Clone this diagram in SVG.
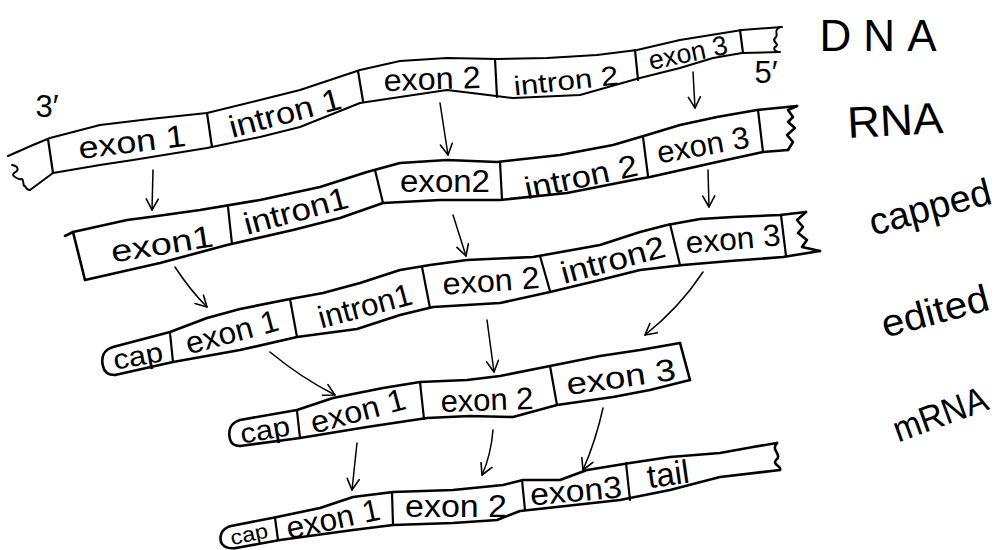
<svg xmlns="http://www.w3.org/2000/svg" width="1000" height="550" viewBox="0 0 1000 550">
<defs>
<style>
.edge{fill:none;stroke:#000;stroke-width:2.6;stroke-linejoin:round;stroke-linecap:round}
.thin{fill:none;stroke:#000;stroke-width:2;stroke-linejoin:round;stroke-linecap:round}
.div{fill:none;stroke:#000;stroke-width:2.2;stroke-linecap:round}
.arr{fill:none;stroke:#000;stroke-width:1.5;stroke-linecap:round;marker-end:url(#ah)}
text{font-family:"Liberation Sans",Arial,sans-serif;fill:#000;text-anchor:middle;dominant-baseline:central}
.lb{font-size:31px}
.sm{font-size:27px}
.cap{font-size:28px}
.side{font-size:44px}
</style>
<marker id="ah" markerUnits="userSpaceOnUse" viewBox="-12 -7 14 14" refX="0" refY="0" markerWidth="14" markerHeight="14" orient="auto">
<path d="M-11,-6 L0,0 L-11,6" fill="none" stroke="#000" stroke-width="1.6" stroke-linecap="round" stroke-linejoin="round"/>
</marker>
</defs>
<rect width="1000" height="550" fill="#fff"/>

<g id="dna">
<path class="thin" d="M8,156 L33,145 L50,138 L100,125 L150,119 L207,113 L260,100 L300,90 L360,70 L400,61 L447,58 L497,59 L547,58 L597,55 L637,50 L680,40 L742,30 L782,27"/>
<path class="thin" d="M30,190 L53,173 L100,165 L133,160 L207,148 L260,137 L300,127 L360,103 L400,97 L447,90 L480,94 L513,98 L580,95 L640,78 L680,68 L713,58 L742,53 L780,52"/>
<path class="thin" d="M12,165 C18,166 20,170 14,173 C10,176 20,180 22,179 C25,182 22,186 25,186 C27,190 29,190 30,190"/>
<path class="thin" d="M780,27 C772,31 780,35 775,38 C771,42 781,44 775,47 C772,50 778,52 778,52"/>
<path class="div" d="M48,139 L53,173 M207,113 L212,147 M358,71 L363,101 M495,59 L497,97 M635,50 L638,80 M740,30 L743,53"/>
<text class="lb" transform="translate(47,106)">3′</text>
<text class="lb" transform="translate(132,142) rotate(-7)" textLength="108" lengthAdjust="spacingAndGlyphs">exon 1</text>
<text class="lb" transform="translate(285,113) rotate(-15)" textLength="115" lengthAdjust="spacingAndGlyphs">intron 1</text>
<text class="lb" transform="translate(432,79) rotate(-2)" textLength="97" lengthAdjust="spacingAndGlyphs">exon 2</text>
<text class="sm" transform="translate(566,81) rotate(-6)" textLength="105" lengthAdjust="spacingAndGlyphs">intron 2</text>
<text class="sm" transform="translate(688,53) rotate(-12)" textLength="80" lengthAdjust="spacingAndGlyphs">exon 3</text>
<text class="lb" transform="translate(766,72)">5′</text>
</g>

<g id="rna">
<path class="edge" d="M65,236 L73,232 L127,220 L150,217 L200,210 L260,200 L320,187 L367,172 L400,163 L447,160 L497,162 L560,155 L613,145 L647,135 L680,125 L717,117 L757,110 L797,106"/>
<path class="edge" d="M85,280 L160,263 L227,245 L293,230 L340,218 L383,203 L440,200 L500,200 L567,193 L633,180 L650,177 L717,162 L763,152 L788,150"/>
<path class="edge" d="M73,232 L85,280"/>
<path class="edge" d="M797,106 L788,110 L793,117 L788,122 L795,128 L787,135 L793,142 L788,150"/>
<path class="div" d="M228,207 L232,244 M375,170 L383,203 M500,162 L502,200 M643,137 L648,176 M758,110 L763,152"/>
<text class="lb" transform="translate(162,244) rotate(-9)" textLength="103" lengthAdjust="spacingAndGlyphs">exon1</text>
<text class="lb" transform="translate(296,211) rotate(-15)" textLength="107" lengthAdjust="spacingAndGlyphs">intron1</text>
<text class="lb" transform="translate(445,181)" textLength="90" lengthAdjust="spacingAndGlyphs">exon2</text>
<text class="lb" transform="translate(581,177) rotate(-12)" textLength="115" lengthAdjust="spacingAndGlyphs">intron 2</text>
<text class="lb" transform="translate(703,145) rotate(-10)" textLength="93" lengthAdjust="spacingAndGlyphs">exon 3</text>
</g>

<g id="capped">
<path class="edge" d="M115,375 C108,375 104,372 103,366 C101,358 103,350 113,347 L170,332 L207,318 L240,309 L290,299 L323,293 L360,283 L400,270 L430,265 L467,260 L533,257 L600,245 L640,232 L667,225 L700,219 L733,217 L780,215 L806,212"/>
<path class="edge" d="M115,375 L173,362 L240,350 L297,337 L357,329 L400,315 L433,307 L500,303 L550,292 L600,280 L640,270 L683,265 L730,261 L783,257 L820,251"/>
<path class="edge" d="M806,212 L797,220 L803,227 L798,233 L807,240 L802,247 L820,251"/>
<path class="div" d="M170,333 L173,362 M290,299 L297,337 M422,267 L430,308 M540,256 L550,291 M670,224 L680,265 M781,215 L786,256"/>
<text class="cap" transform="translate(138,356) rotate(-10)" textLength="50" lengthAdjust="spacingAndGlyphs">cap</text>
<text class="lb" transform="translate(232,332) rotate(-15)" textLength="95" lengthAdjust="spacingAndGlyphs">exon 1</text>
<text class="lb" transform="translate(365,306) rotate(-15)" textLength="96" lengthAdjust="spacingAndGlyphs">intron1</text>
<text class="lb" transform="translate(491,281) rotate(-4)" textLength="97" lengthAdjust="spacingAndGlyphs">exon 2</text>
<text class="lb" transform="translate(613,260) rotate(-15)" textLength="107" lengthAdjust="spacingAndGlyphs">intron2</text>
<text class="lb" transform="translate(733,239) rotate(-5)" textLength="95" lengthAdjust="spacingAndGlyphs">exon 3</text>
</g>

<g id="edited">
<path class="edge" d="M240,446 C234,446 231,444 230,439 C228,431 230,423 240,420 L297,410 L333,398 L383,388 L420,382 L467,380 L500,376 L550,366 L600,356 L640,350 L680,343"/>
<path class="edge" d="M240,446 L300,438 L367,427 L427,418 L470,416 L513,417 L557,405 L613,397 L650,390 L690,380"/>
<path class="edge" d="M680,343 L690,380"/>
<path class="div" d="M297,411 L300,438 M420,382 L424,419 M550,366 L557,405"/>
<text class="cap" transform="translate(265,430) rotate(-10)" textLength="50" lengthAdjust="spacingAndGlyphs">cap</text>
<text class="lb" transform="translate(358,411) rotate(-15)" textLength="97" lengthAdjust="spacingAndGlyphs">exon 1</text>
<text class="lb" transform="translate(487,400) rotate(-2)" textLength="93" lengthAdjust="spacingAndGlyphs">exon 2</text>
<text class="lb" transform="translate(621,377) rotate(-8)" textLength="110" lengthAdjust="spacingAndGlyphs">exon 3</text>
</g>

<g id="mrna">
<path class="edge" d="M236,548 C229,549 223,547 221,542 C219,534 223,528 231,526 L277,517 L320,508 L353,497 L393,492 L453,490 L503,485 L523,480 L560,480 L587,470 L630,463 L670,457 L720,453 L753,447 L777,443"/>
<path class="edge" d="M236,548 L280,540 L353,530 L393,525 L453,523 L497,520 L520,511 L620,500 L670,490 L720,477 L780,470"/>
<path class="edge" d="M777,443 C770,450 783,455 776,460 C772,465 782,466 780,470"/>
<path class="div" d="M275,518 L278,540 M392,492 L393,525 M522,480 L525,510 M626,463 L630,500"/>
<text class="cap" style="font-size:21px" transform="translate(249,534) rotate(-12)" textLength="38" lengthAdjust="spacingAndGlyphs">cap</text>
<text class="lb" transform="translate(333,519) rotate(-12)" textLength="95" lengthAdjust="spacingAndGlyphs">exon 1</text>
<text class="lb" transform="translate(456,506)" textLength="102" lengthAdjust="spacingAndGlyphs">exon 2</text>
<text class="lb" transform="translate(576,491) rotate(-5)" textLength="92" lengthAdjust="spacingAndGlyphs">exon3</text>
<text class="lb" style="font-size:33px" transform="translate(668,474) rotate(-8)">tail</text>
</g>

<g id="labels">
<text class="side" transform="translate(878,35)" textLength="117" lengthAdjust="spacing">DNA</text>
<text class="side" transform="translate(895,120) rotate(-3)" textLength="96" lengthAdjust="spacingAndGlyphs">RNA</text>
<text class="side" style="font-size:38px" transform="translate(930,207) rotate(-15)" textLength="125" lengthAdjust="spacingAndGlyphs">capped</text>
<text class="side" style="font-size:38px" transform="translate(935,311) rotate(-15)" textLength="110" lengthAdjust="spacingAndGlyphs">edited</text>
<text class="side" style="font-size:36px" transform="translate(940,414) rotate(-20)" textLength="98" lengthAdjust="spacingAndGlyphs">mRNA</text>
</g>

<g id="connectors">
<path class="arr" d="M153,170 L152,210"/>
<path class="arr" d="M440,103 L448,155"/>
<path class="arr" d="M693,72 L695,108"/>
<path class="arr" d="M175,267 Q190,290 207,307"/>
<path class="arr" d="M453,215 L466,256"/>
<path class="arr" d="M708,170 L709,207"/>
<path class="arr" d="M270,352 Q300,377 335,395"/>
<path class="arr" d="M487,320 L494,372"/>
<path class="arr" d="M703,272 Q680,307 645,335"/>
<path class="arr" d="M357,443 L352,490"/>
<path class="arr" d="M493,430 Q491,455 482,475"/>
<path class="arr" d="M603,408 Q596,440 583,470"/>
</g>
</svg>
